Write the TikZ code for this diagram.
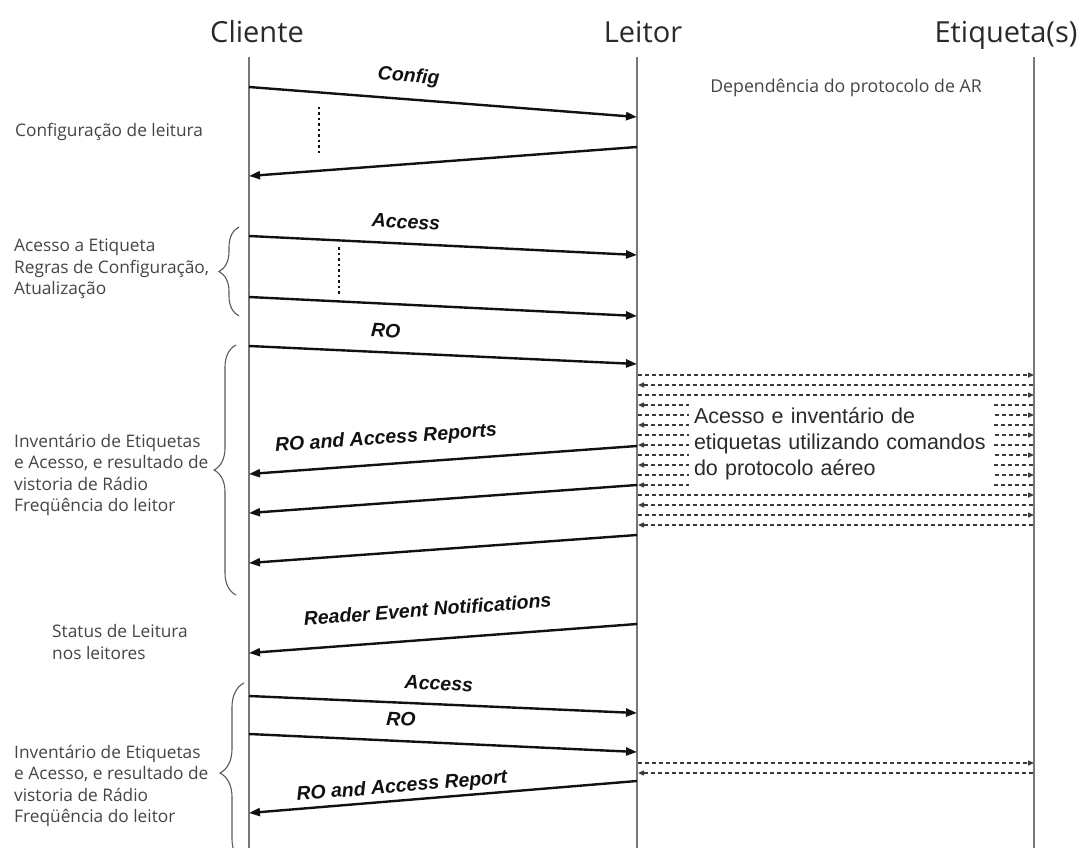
\documentclass[tikz,border=0pt]{standalone}
\usepackage{fontspec}
\setmainfont{Open Sans}
\newfontfamily\arialfont{Liberation Sans}
\usetikzlibrary{arrows.meta,decorations.pathreplacing,calc}

\definecolor{headtext}{HTML}{2A2A2A}
\definecolor{sidetext}{HTML}{454545}
\definecolor{lifegray}{HTML}{777777}
\definecolor{msgblack}{HTML}{111111}
\definecolor{airgray}{HTML}{3A3A3A}
\definecolor{bracegray}{HTML}{5A5A5A}
\definecolor{boxtext}{HTML}{2A2A2A}

\begin{document}
\begin{tikzpicture}[x=1pt,y=1pt,
  every node/.style={inner sep=0pt},
  head/.style={font=\fontsize{29}{34}\selectfont, text=headtext, anchor=base},
  life/.style={draw=lifegray, line width=1.5pt},
  msg/.style={draw=msgblack, line width=2.4pt, arrows={-Triangle[length=11pt,width=8pt]}},
  reply/.style={draw=msgblack, line width=2.4pt, arrows={Triangle[length=11pt,width=8pt]-}},
  lbl/.style={font=\arialfont\bfseries\itshape\fontsize{19.5}{22}\selectfont,
    text=msgblack, sloped, text height=14pt, text depth=4pt},
  side/.style={font=\fontsize{17.3}{21.3}\selectfont, text=sidetext, align=left, anchor=west},
  wait/.style={draw=msgblack, line width=2.6pt, dash pattern=on 2.5pt off 3pt},
  air/.style={draw=airgray, line width=1.4pt, dash pattern=on 4pt off 3pt},
  airout/.style={air, arrows={-Triangle[length=6pt,width=5pt]}},
  airin/.style={air, arrows={Triangle[length=6pt,width=5pt]-}},
  airbox/.style={fill=white, minimum width=304pt, minimum height=90pt, text width=294pt,
    inner xsep=5pt, align=left, font=\arialfont\fontsize{21.5}{26}\selectfont, text=boxtext},
  grp/.style={draw=bracegray, line width=1.1pt, decorate, decoration={brace, amplitude=#1}}
]
\useasboundingbox (0,0) rectangle (1077,-848);
\fill[white] (0,0) rectangle (1077,-848);
\clip (0,0) rectangle (1077,-848);

% participants
\node[head] (hC) at (257,-42.7) {Cliente};
\node[head] (hL) at (643,-42.7) {Leitor};
\node[head] (hE) at (1006,-42.7) {Etiqueta(s)};

% lifelines
\coordinate (Ct) at (249,-57);  \coordinate (Cb) at (249,-848);
\coordinate (Lt) at (637,-57);  \coordinate (Lb) at (637,-848);
\coordinate (Et) at (1034,-57); \coordinate (Eb) at (1034,-848);
\draw[life] (Ct) -- (Cb);
\draw[life] (Lt) -- (Lb);
\draw[life] (Et) -- (Eb);

\node[font=\fontsize{17.7}{21}\selectfont, text=sidetext] (dep) at (846,-88) {Dependência do protocolo de AR};

% message end points
\coordinate (cfgC) at (249,-87);   \coordinate (cfgL) at (637,-117);
\coordinate (ackC) at (249,-176);  \coordinate (ackL) at (637,-147);
\coordinate (acc1C) at (249,-236); \coordinate (acc1L) at (637,-255);
\coordinate (acc2C) at (249,-297); \coordinate (acc2L) at (637,-316);
\coordinate (roC) at (249,-346);   \coordinate (roL) at (637,-364);
\coordinate (rep1C) at (249,-474); \coordinate (rep1L) at (637,-446);
\coordinate (rep2C) at (249,-513); \coordinate (rep2L) at (637,-485);
\coordinate (rep3C) at (249,-563); \coordinate (rep3L) at (637,-535);
\coordinate (evtC) at (249,-653);  \coordinate (evtL) at (637,-624);
\coordinate (acc3C) at (249,-696); \coordinate (acc3L) at (637,-713);
\coordinate (ro2C) at (249,-734);  \coordinate (ro2L) at (637,-752);
\coordinate (rep4C) at (249,-813); \coordinate (rep4L) at (637,-781);

% client / reader messages
\draw[msg] (cfgC) -- node[lbl, pos=0.407, above=12pt] {Config} (cfgL);
\draw[reply] (ackC) -- (ackL);
\draw[msg] (acc1C) -- node[lbl, pos=0.402, above=10pt] {Access} (acc1L);
\draw[msg] (acc2C) -- (acc2L);
\draw[msg] (roC) -- node[lbl, pos=0.35, above=10pt] {RO} (roL);
\draw[reply] (rep1C) -- node[lbl, pos=0.358, above=15pt] {RO and Access Reports} (rep1L);
\draw[reply] (rep2C) -- (rep2L);
\draw[reply] (rep3C) -- (rep3L);
\draw[reply] (evtC) -- node[lbl, pos=0.466, above=18pt] {Reader Event Notifications} (evtL);
\draw[msg] (acc3C) -- node[lbl, pos=0.487, above=9pt] {Access} (acc3L);
\draw[msg] (ro2C) -- node[lbl, pos=0.389, above=10pt] {RO} (ro2L);
\draw[reply] (rep4C) -- node[lbl, pos=0.397, above=3pt] {RO and Access Report} (rep4L);

% repetition marks
\coordinate (w1a) at (319,-107); \coordinate (w1b) at (319,-155);
\coordinate (w2a) at (339,-247); \coordinate (w2b) at (339,-295);
\draw[wait] (w1a) -- (w1b);
\draw[wait] (w2a) -- (w2b);

% air protocol exchanges between reader and tags
\foreach \i in {0,...,15}{
  \pgfmathsetmacro{\yy}{-375-10*\i}
  \coordinate (aL\i) at (638,\yy);
  \coordinate (aR\i) at (1034,\yy);
  \ifodd\i
    \draw[airin] (aL\i) -- (aR\i);
  \else
    \draw[airout] (aL\i) -- (aR\i);
  \fi
}
\node[airbox] (box) at (841,-444) {Acesso e inventário de\\etiquetas utilizando comandos\\do protocolo aéreo};

\coordinate (bL1) at (638,-763); \coordinate (bR1) at (1034,-763);
\coordinate (bL2) at (638,-773); \coordinate (bR2) at (1034,-773);
\draw[airout] (bL1) -- (bR1);
\draw[airin] (bL2) -- (bR2);

% phase descriptions
\node[side] (s1) at (15,-132) {Configuração de leitura};
\node[side] (s2) at (14,-269) {Acesso a Etiqueta\\Regras de Configuração,\\Atualização};
\node[side] (s3) at (14,-475) {Inventário de Etiquetas\\e Acesso, e resultado de\\vistoria de Rádio\\Freqüência do leitor};
\node[side] (s4) at (52,-642) {Status de Leitura\\nos leitores};
\node[side] (s5) at (14,-786) {Inventário de Etiquetas\\e Acesso, e resultado de\\vistoria de Rádio\\Freqüência do leitor};

% braces grouping the phases
\coordinate (g1b) at (239,-316); \coordinate (g1t) at (239,-227);
\coordinate (g2b) at (236,-595); \coordinate (g2t) at (236,-345);
\coordinate (g3b) at (244,-863); \coordinate (g3t) at (244,-683);
\draw[grp=20pt] (g1b) -- (g1t);
\draw[grp=22pt] (g2b) -- (g2t);
\draw[grp=24pt] (g3b) -- (g3t);
\end{tikzpicture}
\end{document}
